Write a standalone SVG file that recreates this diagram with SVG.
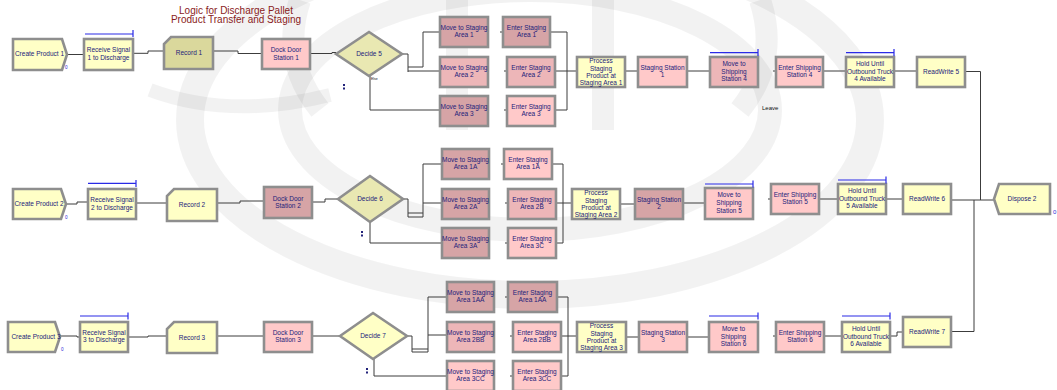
<svg xmlns="http://www.w3.org/2000/svg" width="1057" height="390" viewBox="0 0 1057 390">
<style>
  .bg { fill: #ffffff; }
  .wm { fill: none; stroke: #000000; stroke-opacity: 0.05; }
  .m { stroke: #8e8e8e; stroke-width: 2.6; }
  .y { fill: #FFFFC6; }
  .yd { fill: #DAD89C; }
  .yk { fill: #E9E8B2; }
  .p { fill: #FFC9C9; }
  .pm { fill: #EDB6B8; }
  .pd { fill: #D6A4A6; }
  .t { font-family: "Liberation Sans", Arial, sans-serif; font-size: 6.5px; fill: #22227a; text-anchor: middle; }
  .title { font-family: "Liberation Sans", Arial, sans-serif; font-size: 10px; fill: #8a1c22; text-anchor: middle; }
  .tiny { font-family: "Liberation Sans", Arial, sans-serif; font-size: 4.5px; fill: #2a2ad8; }
  .lbl { font-family: "Liberation Sans", Arial, sans-serif; font-size: 6px; fill: #111111; }
  .bar { stroke: #2a2ae6; stroke-width: 1.2; fill: none; }
  .c { fill: none; stroke: #3c3c3c; stroke-width: 1; }
  .dot { fill: #22227a; }
</style>

<rect class="bg" x="0" y="0" width="1057" height="390"/>

<!-- faint emblem behind the model -->
<g id="emblem">
  <ellipse class="wm" cx="530" cy="120" rx="340" ry="175" stroke-width="28"/>
  <ellipse class="wm" cx="530" cy="110" rx="240" ry="120" stroke-width="24"/>
  <path class="wm" d="M300 0 Q280 60 320 110" stroke-width="22"/>
  <path class="wm" d="M760 0 Q780 60 740 110" stroke-width="22"/>
  <rect x="446" y="0" width="22" height="130" fill="#000" fill-opacity="0.05"/>
  <rect x="592" y="0" width="22" height="130" fill="#000" fill-opacity="0.05"/>
  <path class="wm" d="M150 90 Q230 120 330 95" stroke-width="14"/>
</g>

<text class="title" x="236" y="14">Logic for Discharge Pallet</text>
<text class="title" x="236" y="23">Product Transfer and Staging</text>

<!-- connectors -->
<g id="connectors">
  <!-- row 1 -->
  <path class="c" d="M67 54.5 H84"/>
  <path class="c" d="M133 53.3 H148 V51 H164"/>
  <path class="c" d="M213 51 H238 V53.5 H262"/>
  <path class="c" d="M310 53.5 H332 V52.5 H336"/>
  <path class="c" d="M402 54 H408 V72"/>
  <path class="c" d="M408 67 H423 V32 H440"/>
  <path class="c" d="M408 71 H440"/>
  <path class="c" d="M370 76 V110 H440"/>
  <path class="c" d="M550 32 H567 V110 H555"/>
  <path class="c" d="M555 71 H577"/>
  <path class="c" d="M625 71 H638"/>
  <path class="c" d="M687 71 H710"/>
  <path class="c" d="M823 71 H846"/>
  <path class="c" d="M894 71 H917"/>
  <path class="c" d="M965 71.5 H980.5 V200"/>
  <!-- row 2 -->
  <path class="c" d="M66 204 H77 V202 H88"/>
  <path class="c" d="M136 203 H167"/>
  <path class="c" d="M217 203 H240 V201 H264"/>
  <path class="c" d="M312 202 H325 V199 H338"/>
  <path class="c" d="M403 199 H408 V217"/>
  <path class="c" d="M408 213 H423"/>
  <path class="c" d="M408 217 H423 V164 H442"/>
  <path class="c" d="M423 203 H442"/>
  <path class="c" d="M370 222 V243 H442"/>
  <path class="c" d="M552 164 H563 V243 H556"/>
  <path class="c" d="M556 203 H572"/>
  <path class="c" d="M620 204 H635"/>
  <path class="c" d="M683 203 H705"/>
  <path class="c" d="M819 199 H838"/>
  <path class="c" d="M886 199 H903"/>
  <path class="c" d="M951 200 H994"/>
  <!-- row 3 -->
  <path class="c" d="M60 336 H77 V337 H80"/>
  <path class="c" d="M128 337 H148 V336 H167"/>
  <path class="c" d="M217 336 H264"/>
  <path class="c" d="M312 336 H340"/>
  <path class="c" d="M407 336 H412 V352"/>
  <path class="c" d="M412 349 H428"/>
  <path class="c" d="M412 352 H428 V297 H447"/>
  <path class="c" d="M428 335 H447"/>
  <path class="c" d="M374 359 V376 H447"/>
  <path class="c" d="M557 297 H568 V376 H561"/>
  <path class="c" d="M561 336 H577"/>
  <path class="c" d="M626 337 H639"/>
  <path class="c" d="M687 337 H709"/>
  <path class="c" d="M824 336 H842"/>
  <path class="c" d="M890 336 H897 V332 H903"/>
  <path class="c" d="M951 331.5 H974 V200"/>
  <!-- entry stubs of Enter modules -->
  <path class="c" d="M500 32 H503 M504 71 H507 M504 110 H507 M773 71 H776"/>
  <path class="c" d="M501 164 H504 M505 203 H508 M505 243 H508 M768 199 H771"/>
  <path class="c" d="M505 297 H508 M510 336 H513 M510 376 H513 M773 336 H776"/>
</g>

<!-- row 1 -->
<g id="create1"><path class="m y" d="M13 39 H62 L67 54.5 L62 70 H13 Z"/><text class="t" x="39.5" y="55.6">Create Product 1</text><text class="tiny" x="65" y="69">0</text></g>
<g id="receive1"><rect class="m y" x="84" y="39" width="49" height="31"/><path class="bar" d="M85 34 H133 M133 30 V37"/><text class="t" x="108.5" y="52.3">Receive Signal</text><text class="t" x="108.5" y="59.8">1 to Discharge</text></g>
<g id="record1"><path class="m yd" d="M171 37 H213 V69 H164 V44 Z"/><text class="t" x="189" y="55.3">Record 1</text></g>
<g id="dock1"><rect class="m p" x="262" y="39" width="48" height="30"/><text class="t" x="286" y="52.3">Dock Door</text><text class="t" x="286" y="59.8">Station 1</text></g>
<g id="decide5"><polygon class="m yk" points="336,54 369,32 402,54 369,76"/><text class="t" x="369" y="56.3">Decide 5</text><text class="tiny" x="371" y="80" style="fill:#111;font-size:3.5px">Else</text><rect class="dot" x="343" y="84" width="2" height="2"/><rect class="dot" x="343" y="87.5" width="2" height="2"/></g>
<g id="move1"><rect class="m pd" x="440" y="17" width="48" height="30"/><text class="t" x="464" y="29.8">Move to Staging</text><text class="t" x="464" y="37.3">Area 1</text></g>
<g id="move2"><rect class="m pm" x="440" y="57" width="48" height="30"/><text class="t" x="464" y="69.8">Move to Staging</text><text class="t" x="464" y="77.3">Area 2</text></g>
<g id="move3"><rect class="m pd" x="440" y="96" width="48" height="30"/><text class="t" x="464" y="108.8">Move to Staging</text><text class="t" x="464" y="116.3">Area 3</text></g>
<g id="enter1"><rect class="m pd" x="503" y="17" width="47" height="30"/><text class="t" x="526.5" y="29.8">Enter Staging</text><text class="t" x="526.5" y="37.3">Area 1</text></g>
<g id="enter2"><rect class="m pm" x="507" y="57" width="48" height="30"/><text class="t" x="531" y="69.8">Enter Staging</text><text class="t" x="531" y="77.3">Area 2</text></g>
<g id="enter3"><rect class="m p" x="507" y="96" width="48" height="30"/><text class="t" x="531" y="108.8">Enter Staging</text><text class="t" x="531" y="116.3">Area 3</text></g>
<g id="process1"><rect class="m y" x="577" y="57" width="48" height="30"/><text class="t" x="601" y="63.4">Process</text><text class="t" x="601" y="70.6">Staging</text><text class="t" x="601" y="77.8">Product at</text><text class="t" x="601" y="85">Staging Area 1</text></g>
<g id="staging1"><rect class="m p" x="638" y="57" width="49" height="30"/><text class="t" x="662.5" y="69.8">Staging Station</text><text class="t" x="662.5" y="77.3">1</text></g>
<g id="moveship4"><rect class="m pm" x="710" y="57" width="48" height="30"/><path class="bar" d="M710 52.7 H758 M758 49 V56"/><text class="t" x="734" y="65.6">Move to</text><text class="t" x="734" y="73.6">Shipping</text><text class="t" x="734" y="81.3">Station 4</text></g>
<g id="entership4"><rect class="m p" x="776" y="57" width="47" height="30"/><text class="t" x="799.5" y="69.8">Enter Shipping</text><text class="t" x="799.5" y="77.3">Station 4</text></g>
<g id="hold4"><rect class="m y" x="846" y="57" width="48" height="30"/><path class="bar" d="M846 52.7 H894 M894 49 V56"/><text class="t" x="870" y="65.6">Hold Until</text><text class="t" x="870" y="73.6">Outbound Truck</text><text class="t" x="870" y="81.3">4 Available</text></g>
<g id="readwrite5"><rect class="m y" x="917" y="57" width="48" height="30"/><text class="t" x="941" y="74.3">ReadWrite 5</text></g>
<text class="lbl" x="762" y="110">Leave</text>

<!-- row 2 -->
<g id="create2"><path class="m y" d="M13 189 H61 L66 204 L61 219 H13 Z"/><text class="t" x="39" y="206.3">Create Product 2</text><text class="tiny" x="65" y="219">0</text></g>
<g id="receive2"><rect class="m y" x="88" y="189" width="48" height="30"/><path class="bar" d="M88 183.3 H136 M136 180 V187"/><text class="t" x="112" y="202">Receive Signal</text><text class="t" x="112" y="209.5">2 to Discharge</text></g>
<g id="record2"><path class="m y" d="M174 189 H217 V221 H167 V196 Z"/><text class="t" x="192" y="207.3">Record 2</text></g>
<g id="dock2"><rect class="m pd" x="264" y="187" width="48" height="31"/><text class="t" x="288" y="200.5">Dock Door</text><text class="t" x="288" y="208">Station 2</text></g>
<g id="decide6"><polygon class="m yk" points="338,199 370,176 403,199 370,222"/><text class="t" x="370" y="201.3">Decide 6</text><rect class="dot" x="361" y="231" width="2" height="2"/><rect class="dot" x="361" y="234.5" width="2" height="2"/></g>
<g id="move1a"><rect class="m pd" x="442" y="149" width="47" height="30"/><text class="t" x="465.5" y="161.8">Move to Staging</text><text class="t" x="465.5" y="169.3">Area 1A</text></g>
<g id="move2a"><rect class="m pd" x="442" y="189" width="47" height="30"/><text class="t" x="465.5" y="201.8">Move to Staging</text><text class="t" x="465.5" y="209.3">Area 2A</text></g>
<g id="move3a"><rect class="m pd" x="442" y="228" width="47" height="30"/><text class="t" x="465.5" y="240.8">Move to Staging</text><text class="t" x="465.5" y="248.3">Area 3A</text></g>
<g id="enter1a"><rect class="m p" x="504" y="149" width="48" height="30"/><text class="t" x="528" y="161.8">Enter Staging</text><text class="t" x="528" y="169.3">Area 1A</text></g>
<g id="enter2b"><rect class="m pm" x="508" y="189" width="48" height="30"/><text class="t" x="532" y="201.8">Enter Staging</text><text class="t" x="532" y="209.3">Area 2B</text></g>
<g id="enter3c"><rect class="m p" x="508" y="228" width="48" height="30"/><text class="t" x="532" y="240.8">Enter Staging</text><text class="t" x="532" y="248.3">Area 3C</text></g>
<g id="process2"><rect class="m y" x="572" y="189" width="48" height="30"/><text class="t" x="596" y="195.4">Process</text><text class="t" x="596" y="202.6">Staging</text><text class="t" x="596" y="209.8">Product at</text><text class="t" x="596" y="217">Staging Area 2</text></g>
<g id="staging2"><rect class="m pd" x="635" y="189" width="48" height="30"/><text class="t" x="659" y="201.8">Staging Station</text><text class="t" x="659" y="209.3">2</text></g>
<g id="moveship5"><rect class="m p" x="705" y="188" width="48" height="31"/><path class="bar" d="M705 184 H753 M753 180.5 V187.5"/><text class="t" x="729" y="197">Move to</text><text class="t" x="729" y="205">Shipping</text><text class="t" x="729" y="212.5">Station 5</text></g>
<g id="entership5"><rect class="m p" x="771" y="184" width="48" height="30"/><text class="t" x="795" y="196.8">Enter Shipping</text><text class="t" x="795" y="204.3">Station 5</text></g>
<g id="hold5"><rect class="m y" x="838" y="184" width="48" height="30"/><path class="bar" d="M838 180 H886 M886 176.5 V183.5"/><text class="t" x="862" y="192.6">Hold Until</text><text class="t" x="862" y="200.6">Outbound Truck</text><text class="t" x="862" y="208.3">5 Available</text></g>
<g id="readwrite6"><rect class="m y" x="903" y="184" width="48" height="30"/><text class="t" x="927" y="201.3">ReadWrite 6</text></g>
<g id="dispose2"><path class="m y" d="M999 184 H1050 V214 H999 L994 199 Z"/><text class="t" x="1022" y="201.3">Dispose 2</text><text class="tiny" x="1053" y="214" style="font-size:6px">0</text></g>

<!-- row 3 -->
<g id="create3"><path class="m y" d="M8 322 H55 L60 337 L55 352 H8 Z"/><text class="t" x="36" y="339.3">Create Product 3</text><text class="tiny" x="61" y="351">0</text></g>
<g id="receive3"><rect class="m y" x="80" y="322" width="48" height="30"/><path class="bar" d="M80 316 H128 M128 312.5 V319.5"/><text class="t" x="104" y="334.8">Receive Signal</text><text class="t" x="104" y="342.3">3 to Discharge</text></g>
<g id="record3"><path class="m y" d="M174 322 H217 V353 H167 V329 Z"/><text class="t" x="192" y="339.8">Record 3</text></g>
<g id="dock3"><rect class="m p" x="264" y="322" width="48" height="30"/><text class="t" x="288" y="334.8">Dock Door</text><text class="t" x="288" y="342.3">Station 3</text></g>
<g id="decide7"><polygon class="m y" points="340,336 373,313 407,336 373,359"/><text class="t" x="373" y="338.3">Decide 7</text><rect class="dot" x="366" y="368" width="2" height="2"/><rect class="dot" x="366" y="371.5" width="2" height="2"/></g>
<g id="move1aa"><rect class="m pd" x="447" y="282" width="47" height="30"/><text class="t" x="470.5" y="294.8">Move to Staging</text><text class="t" x="470.5" y="302.3">Area 1AA</text></g>
<g id="move2bb"><rect class="m pm" x="447" y="322" width="47" height="30"/><text class="t" x="470.5" y="334.8">Move to Staging</text><text class="t" x="470.5" y="342.3">Area 2BB</text></g>
<g id="move3cc"><rect class="m p" x="447" y="361" width="47" height="30"/><text class="t" x="470.5" y="373.8">Move to Staging</text><text class="t" x="470.5" y="381.3">Area 3CC</text></g>
<g id="enter1aa"><rect class="m pd" x="508" y="282" width="49" height="30"/><text class="t" x="532.5" y="294.8">Enter Staging</text><text class="t" x="532.5" y="302.3">Area 1AA</text></g>
<g id="enter2bb"><rect class="m p" x="513" y="322" width="48" height="30"/><text class="t" x="537" y="334.8">Enter Staging</text><text class="t" x="537" y="342.3">Area 2BB</text></g>
<g id="enter3cc"><rect class="m p" x="513" y="361" width="48" height="30"/><text class="t" x="537" y="373.8">Enter Staging</text><text class="t" x="537" y="381.3">Area 3CC</text></g>
<g id="process3"><rect class="m y" x="577" y="322" width="49" height="30"/><text class="t" x="601.5" y="328.4">Process</text><text class="t" x="601.5" y="335.6">Staging</text><text class="t" x="601.5" y="342.8">Product at</text><text class="t" x="601.5" y="350">Staging Area 3</text></g>
<g id="staging3"><rect class="m p" x="639" y="322" width="48" height="30"/><text class="t" x="663" y="334.8">Staging Station</text><text class="t" x="663" y="342.3">3</text></g>
<g id="moveship6"><rect class="m p" x="709" y="322" width="49" height="30"/><path class="bar" d="M709 316 H758 M758 312.5 V319.5"/><text class="t" x="733.5" y="330.6">Move to</text><text class="t" x="733.5" y="338.6">Shipping</text><text class="t" x="733.5" y="346.3">Station 6</text></g>
<g id="entership6"><rect class="m p" x="776" y="322" width="48" height="30"/><text class="t" x="800" y="334.8">Enter Shipping</text><text class="t" x="800" y="342.3">Station 6</text></g>
<g id="hold6"><rect class="m y" x="842" y="322" width="48" height="30"/><path class="bar" d="M842 316 H890 M890 312.5 V319.5"/><text class="t" x="866" y="330.6">Hold Until</text><text class="t" x="866" y="338.6">Outbound Truck</text><text class="t" x="866" y="346.3">6 Available</text></g>
<g id="readwrite7"><rect class="m y" x="903" y="317" width="48" height="30"/><text class="t" x="927" y="334.3">ReadWrite 7</text></g>
</svg>
